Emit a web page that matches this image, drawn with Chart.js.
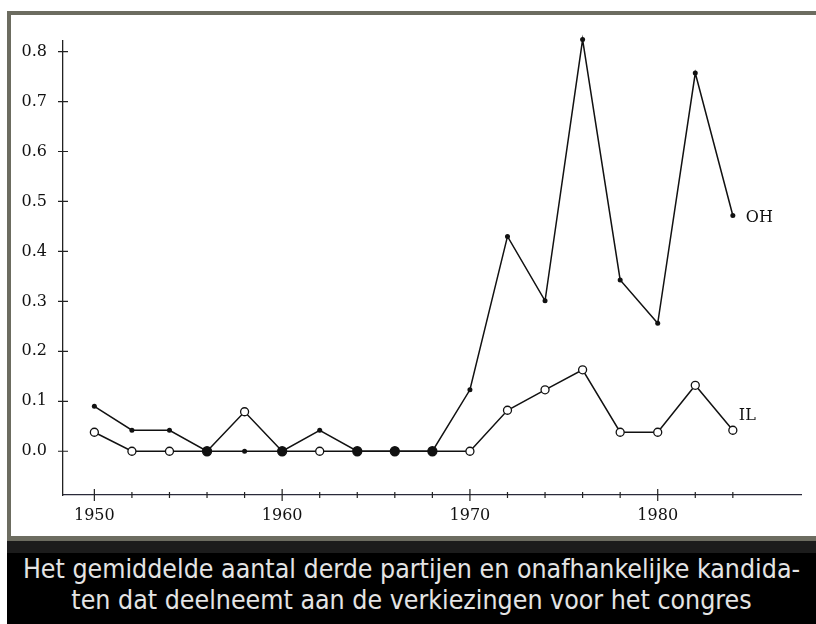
<!DOCTYPE html>
<html>
<head>
<meta charset="utf-8">
<script src="https://cdn.jsdelivr.net/npm/chart.js@4.4.1/dist/chart.umd.min.js"></script>
<style>
  html, body { margin: 0; padding: 0; background: #fff; width: 816px; height: 624px; overflow: hidden; }
  #frame {
    position: absolute; left: 7px; top: 11px; width: 805px; height: 521px;
    border-left: 4px solid #6c6c60; border-top: 4px solid #6c6c60; border-bottom: 5px solid #6c6c60;
    background: #fff;
  }
  #myChart { position: absolute; left: 0; top: 0; }
  #caption {
    position: absolute; left: 7px; top: 541px; width: 809px; height: 83px;
    background: #000; border-top: 12px solid #1c1c1c; box-sizing: border-box;
    color: #e4e4e4; text-align: center;
    font-family: "Liberation Sans Narrow", "DejaVu Sans Condensed", "Liberation Sans", sans-serif;
    font-size: 26.5px; line-height: 31px; padding-top: 0px;
  }
</style>
</head>
<body>
<div id="frame"><canvas id="myChart" width="805" height="521"></canvas></div>
<div id="caption"></div>
<script>
// values
const years = [1950, 1952, 1954, 1956, 1958, 1960, 1962, 1964, 1966, 1968, 1970, 1972, 1974, 1976, 1978, 1980, 1982, 1984];
const ohValues = [0.090, 0.042, 0.042, 0, 0, 0, 0.042, 0, 0, 0, 0.123, 0.430, 0.301, 0.824, 0.343, 0.256, 0.757, 0.472];
const ilValues = [0.038, 0, 0, 0, 0.079, 0, 0, 0, 0, 0, 0, 0.082, 0.123, 0.163, 0.038, 0.038, 0.132, 0.042];
const seriesNames = ["OH", "IL"];
const yTicks = [0, 0.1, 0.2, 0.3, 0.4, 0.5, 0.6, 0.7, 0.8];
const xTicks = years;
const xLabelYears = [1950, 1960, 1970, 1980];
const captionLines = [
     "Het gemiddelde aantal derde partijen en onafhankelijke kandida-",
     "ten dat deelneemt aan de verkiezingen voor het congres"
];

document.getElementById("caption").innerHTML = captionLines.join("<br>");

const serif = "'DejaVu Serif', 'Liberation Serif', serif";

// tick marks that cross the axis lines, plus the series names at the line ends
const axisMarks = {
     id: "axisMarks",
     afterDraw(chart) {
          const ctx = chart.ctx;
          const xs = chart.scales.x;
          const ys = chart.scales.y;
          const area = chart.chartArea;
          ctx.save();
          ctx.strokeStyle = "#222";
          ctx.lineWidth = 1.2;
          ctx.beginPath();
          xs.ticks.forEach(t => {
               const px = xs.getPixelForValue(t.value);
               const len = xLabelYears.includes(t.value) ? 6 : 3;
               ctx.moveTo(px, area.bottom - len);
               ctx.lineTo(px, area.bottom + len);
          });
          ys.ticks.forEach(t => {
               const py = ys.getPixelForValue(t.value);
               ctx.moveTo(area.left - 5, py);
               ctx.lineTo(area.left + 5, py);
          });
          ctx.stroke();

          ctx.fillStyle = "#111";
          ctx.font = "16px " + serif;
          ctx.textBaseline = "middle";
          const last = years.length - 1;
          const lx = xs.getPixelForValue(years[last]);
          ctx.fillText(seriesNames[0], lx + 13, ys.getPixelForValue(ohValues[last]) + 2);
          ctx.fillText(seriesNames[1], lx + 6, ys.getPixelForValue(ilValues[last]) - 14);
          ctx.restore();
     }
};

const data = {
     datasets: [
          {
               label: seriesNames[0],
               data: years.map((y, i) => ({ x: y, y: ohValues[i] })),
               borderColor: "#111",
               borderWidth: 1.5,
               pointRadius: 2.5,
               pointBackgroundColor: "#111",
               pointBorderWidth: 0,
               tension: 0,
               clip: false
          },
          {
               label: seriesNames[1],
               data: years.map((y, i) => ({ x: y, y: ilValues[i] })),
               borderColor: "#111",
               borderWidth: 1.5,
               pointRadius: ctx => ohValues[ctx.dataIndex] === ilValues[ctx.dataIndex] ? 4.5 : 4,
               pointBackgroundColor: ctx => ohValues[ctx.dataIndex] === ilValues[ctx.dataIndex] ? "#111" : "#fff",
               pointBorderColor: "#111",
               pointBorderWidth: 1.3,
               tension: 0,
               clip: false
          }
     ]
};

const config = {
     type: "line",
     data: data,
     options: {
          responsive: false,
          animation: false,
          layout: { padding: { left: 0, right: 15, top: 23, bottom: 0 } },
          plugins: { legend: { display: false }, tooltip: { enabled: false } },
          scales: {
               x: {
                    type: "linear",
                    min: 1948.33,
                    max: 1987.63,
                    afterBuildTicks: scale => { scale.ticks = xTicks.map(v => ({ value: v })); },
                    afterFit: scale => { scale.height = 41; },
                    grid: { display: false, drawTicks: false },
                    border: { display: true, color: "#2a2a3a", width: 1.3 },
                    ticks: {
                         padding: 11,
                         color: "#111",
                         font: { family: serif, size: 16 },
                         autoSkip: false,
                         maxRotation: 0,
                         callback: v => xLabelYears.includes(v) ? String(v) : ""
                    }
               },
               y: {
                    type: "linear",
                    min: -0.0876,
                    max: 0.822,
                    afterBuildTicks: scale => { scale.ticks = yTicks.map(v => ({ value: v })); },
                    afterFit: scale => { scale.width = 52; },
                    grid: { display: false, drawTicks: false },
                    border: { display: true, color: "#222", width: 1.3 },
                    ticks: {
                         padding: 16,
                         color: "#111",
                         font: { family: serif, size: 16 },
                         callback: v => Number(v).toFixed(1)
                    }
               }
          }
     },
     plugins: [axisMarks]
};

const myChart = new Chart(document.getElementById("myChart"), config);
</script>
</body>
</html>
